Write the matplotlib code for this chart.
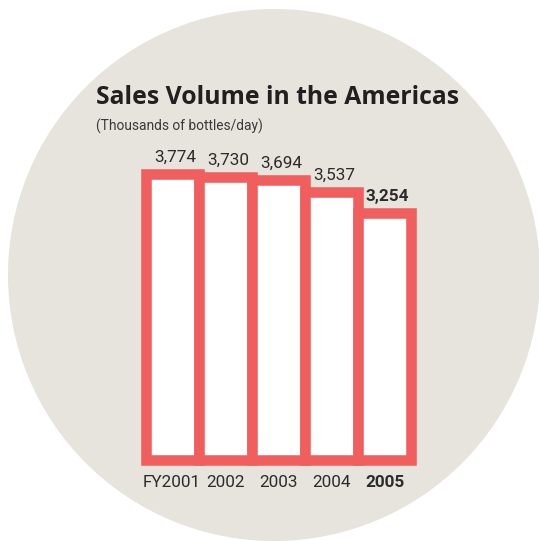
import matplotlib
matplotlib.use('Agg')
import matplotlib.pyplot as plt
from matplotlib.patches import Circle

years = ['FY2001', '2002', '2003', '2004', '2005']
volumes = [3774, 3730, 3694, 3537, 3254]
value_labels = ['3,774', '3,730', '3,694', '3,537', '3,254']
highlight = 4  # latest year shown in bold

red = '#F15E5E'
beige = '#E7E3DD'
dark = '#231F20'
narrow = ['Roboto', 'DejaVu Sans']

W, H = 539, 541
fig = plt.figure(figsize=(W / 100, H / 100), dpi=100)
fig.patch.set_facecolor('white')

# background disc, drawn in pixel coordinates
bg = fig.add_axes([0, 0, 1, 1])
bg.set_xlim(0, W)
bg.set_ylim(H, 0)
bg.axis('off')
bg.add_patch(Circle((274, 275), 266, facecolor=beige, edgecolor='none'))

bg.text(96, 97, 'Sales Volume in the Americas', fontsize=17.8, fontweight='bold',
        family='Open Sans', color=dark, va='center', ha='left')
bg.text(96, 126, '(Thousands of bottles/day)', fontsize=9.9, family=narrow,
        color='#3a3a3a', va='center', ha='left')

# bar axes: bars touch each other, thick outline shared between neighbours
ymax = 4000
px_per_unit = 285.5 / 3774
left, right, base = 145.5, 411.5, 459.5
ax = fig.add_axes([left / W, (H - base) / H, (right - left) / W, ymax * px_per_unit / H])
ax.set_xlim(-0.5, len(years) - 0.5)
ax.set_ylim(0, ymax)
ax.axis('off')

x = range(len(years))
ax.bar(x, volumes, width=1.0, facecolor='white', edgecolor=red, linewidth=7.6,
       joinstyle='miter', clip_on=False)

for i, (v, lab) in enumerate(zip(volumes, value_labels)):
    w = 'bold' if i == highlight else 'normal'
    ax.annotate(lab, (i, v), xytext=(2, 6.5), textcoords='offset points',
                ha='center', va='bottom', fontsize=12.3, fontweight=w,
                family=narrow, color='#2b2b2b', annotation_clip=False)
    ax.annotate(years[i], (i, 0), xytext=(0, -11), textcoords='offset points',
                ha='center', va='top', fontsize=12.3, fontweight=w,
                family=narrow, color='#2b2b2b', annotation_clip=False)

fig.savefig('out.png', dpi=100, facecolor='white')
